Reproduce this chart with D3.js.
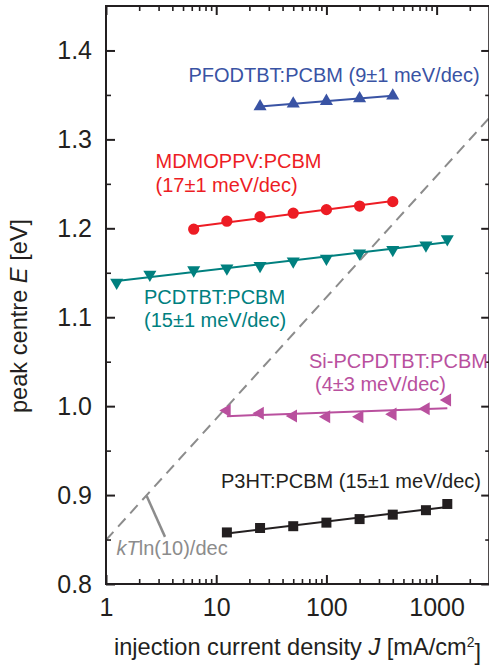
<!DOCTYPE html>
<html>
<head>
<meta charset="utf-8">
<script src="https://cdn.jsdelivr.net/npm/d3@7"></script>
<style>
  body { margin: 0; background: #fff; }
  svg { display: block; font-family: 'Liberation Sans', Arial, Helvetica, sans-serif; }
</style>
</head>
<body>
<svg id="chart" width="489" height="666"></svg>
<script>
// axis ranges and ticks
const xDomain = [1, 3000]
const yDomain = [0.8, 1.45]
const xTicks = [1, 10, 100, 1000]
const xMinorTicks = [2, 3, 4, 5, 6, 7, 8, 9, 20, 30, 40, 50, 60, 70, 80, 90, 200, 300, 400, 500, 600, 700, 800, 900, 2000]
const yTicks = [0.8, 0.9, 1.0, 1.1, 1.2, 1.3, 1.4]
const yMinorTicks = [0.85, 0.95, 1.05, 1.15, 1.25, 1.35]

// injection current density J [mA/cm2] and peak centre E [eV]
const pfodtbtJ = [25, 50, 100, 200, 400]
const pfodtbtE = [1.337, 1.340, 1.343, 1.346, 1.349]

const mdmoppvJ = [6.25, 12.5, 25, 50, 100, 200, 400]
const mdmoppvE = [1.199, 1.208, 1.213, 1.217, 1.221, 1.225, 1.230]

const pcdtbtJ = [1.25, 2.5, 6.25, 12.5, 25, 50, 100, 200, 400, 800, 1250]
const pcdtbtE = [1.139, 1.148, 1.153, 1.155, 1.158, 1.163, 1.166, 1.172, 1.176, 1.181, 1.188]

const siJ = [12.5, 25, 50, 100, 200, 400, 800, 1250]
const siE = [0.995, 0.992, 0.989, 0.988, 0.988, 0.991, 0.997, 1.007]

const p3htJ = [12.5, 25, 50, 100, 200, 400, 800, 1250]
const p3htE = [0.858, 0.863, 0.865, 0.869, 0.873, 0.878, 0.883, 0.890]

// kT ln(10)/dec guide line and its pointer
const guideJ = [1, 3000]
const guideE = [0.8495, 1.324]
const pointerJ = [2.34, 3.43]
const pointerE = [0.899, 0.853]

const series = [
  { J: pfodtbtJ, E: pfodtbtE, color: '#3953a4', marker: 'up' },
  { J: mdmoppvJ, E: mdmoppvE, color: '#ed1c24', marker: 'circle' },
  { J: pcdtbtJ, E: pcdtbtE, color: '#00807f', marker: 'down' },
  { J: siJ, E: siE, color: '#b9509e', marker: 'left' },
  { J: p3htJ, E: p3htE, color: '#231f20', marker: 'square' },
]

const labels = [
  { text: 'PFODTBT:PCBM (9±1 meV/dec)', x: 188.5, y: 82, color: '#3953a4' },
  { text: 'MDMOPPV:PCBM', x: 155.5, y: 168, color: '#ed1c24' },
  { text: '(17±1 meV/dec)', x: 155.5, y: 192, color: '#ed1c24' },
  { text: 'PCDTBT:PCBM', x: 144, y: 304, color: '#00807f' },
  { text: '(15±1 meV/dec)', x: 144, y: 327, color: '#00807f' },
  { text: 'Si-PCPDTBT:PCBM', x: 309, y: 368, color: '#b9509e' },
  { text: '(4±3 meV/dec)', x: 315, y: 391, color: '#b9509e' },
  { text: 'P3HT:PCBM (15±1 meV/dec)', x: 221, y: 488, color: '#231f20' },
]

const axisColor = '#231f20'
const guideColor = '#8c8c8c'

const x = d3.scaleLog().domain(xDomain).range([106, 489.2])
const y = d3.scaleLinear().domain(yDomain).range([584, 6])

const svg = d3.select('#chart')

const plotLeft = x(xDomain[0])
const plotRight = x(xDomain[1])
const plotTop = y(yDomain[1])
const plotBottom = y(yDomain[0])

svg.append('clipPath').attr('id', 'plot-clip')
  .append('rect')
  .attr('x', plotLeft).attr('y', plotTop)
  .attr('width', plotRight - plotLeft)
  .attr('height', plotBottom - plotTop)

const plot = svg.append('g').attr('clip-path', 'url(#plot-clip)')

function linFit (J, E) {
  const lx = J.map(Math.log10)
  const mx = d3.mean(lx)
  const my = d3.mean(E)
  const slope = d3.sum(lx, (v, i) => (v - mx) * (E[i] - my)) / d3.sum(lx, v => (v - mx) ** 2)
  return j => my + slope * (Math.log10(j) - mx)
}

function markerPath (type) {
  if (type === 'circle') return d3.symbol(d3.symbolCircle, 100)()
  if (type === 'square') return d3.symbol(d3.symbolSquare, 100)()
  return d3.symbol(d3.symbolTriangle, 74)()
}

const markerRotation = { up: 0, down: 180, left: -90, circle: 0, square: 0 }

// dashed guide
plot.append('line')
  .attr('x1', x(guideJ[0])).attr('y1', y(guideE[0]))
  .attr('x2', x(guideJ[1])).attr('y2', y(guideE[1]))
  .attr('stroke', guideColor)
  .attr('stroke-width', 2)
  .attr('stroke-dasharray', '11,7')

plot.append('line')
  .attr('x1', x(pointerJ[0])).attr('y1', y(pointerE[0]))
  .attr('x2', x(pointerJ[1])).attr('y2', y(pointerE[1]))
  .attr('stroke', guideColor)
  .attr('stroke-width', 2.5)

series.forEach(s => {
  const fit = linFit(s.J, s.E)
  const ends = [s.J[0], s.J[s.J.length - 1]]
  plot.append('path')
    .datum(ends)
    .attr('fill', 'none')
    .attr('stroke', s.color)
    .attr('stroke-width', 2)
    .attr('d', d3.line().x(j => x(j)).y(j => y(fit(j))))

  plot.append('g')
    .selectAll('path')
    .data(s.J.map((j, i) => ({ j, e: s.E[i] })))
    .join('path')
    .attr('d', markerPath(s.marker))
    .attr('fill', s.color)
    .attr('transform', d => `translate(${x(d.j)},${y(d.e)}) rotate(${markerRotation[s.marker]})`)
})

// frame
svg.append('rect')
  .attr('x', plotLeft).attr('y', plotTop)
  .attr('width', plotRight - plotLeft)
  .attr('height', plotBottom - plotTop)
  .attr('fill', 'none')
  .attr('stroke', axisColor)
  .attr('stroke-width', 2)

function styleAxis (g, width) {
  g.select('.domain').remove()
  g.selectAll('.tick line').attr('stroke', axisColor).attr('stroke-width', width)
  g.selectAll('.tick text').attr('fill', axisColor).style('font-size', '25px')
}

svg.append('g').attr('transform', `translate(0,${plotBottom})`)
  .call(d3.axisBottom(x).tickValues(xTicks).tickFormat(d3.format('d')).tickSize(-9).tickPadding(14))
  .call(g => styleAxis(g, 2))
svg.append('g').attr('transform', `translate(0,${plotBottom})`)
  .call(d3.axisBottom(x).tickValues(xMinorTicks).tickFormat('').tickSize(-5))
  .call(g => styleAxis(g, 1.6))
svg.append('g').attr('transform', `translate(0,${plotTop})`)
  .call(d3.axisTop(x).tickValues(xTicks).tickFormat('').tickSize(-9))
  .call(g => styleAxis(g, 2))
svg.append('g').attr('transform', `translate(0,${plotTop})`)
  .call(d3.axisTop(x).tickValues(xMinorTicks).tickFormat('').tickSize(-5))
  .call(g => styleAxis(g, 1.6))

svg.append('g').attr('transform', `translate(${plotLeft},0)`)
  .call(d3.axisLeft(y).tickValues(yTicks).tickFormat(d3.format('.1f')).tickSize(-9).tickPadding(14))
  .call(g => styleAxis(g, 2))
svg.append('g').attr('transform', `translate(${plotLeft},0)`)
  .call(d3.axisLeft(y).tickValues(yMinorTicks).tickFormat('').tickSize(-5))
  .call(g => styleAxis(g, 1.6))
svg.append('g').attr('transform', `translate(${plotRight},0)`)
  .call(d3.axisRight(y).tickValues(yTicks).tickFormat('').tickSize(-8))
  .call(g => styleAxis(g, 2))
svg.append('g').attr('transform', `translate(${plotRight},0)`)
  .call(d3.axisRight(y).tickValues(yMinorTicks).tickFormat('').tickSize(-4))
  .call(g => styleAxis(g, 1.6))

// axis titles
const xTitle = svg.append('text')
  .attr('x', 114).attr('y', 655)
  .attr('fill', axisColor)
  .style('font-size', '23.6px')
xTitle.append('tspan').text('injection current density ')
xTitle.append('tspan').style('font-style', 'italic').text('J')
xTitle.append('tspan').text(' [mA/cm')
xTitle.append('tspan').attr('dy', '-0.55em').style('font-size', '14px').text('2')
xTitle.append('tspan').attr('dy', '0.55em').text(']')

const yTitle = svg.append('text')
  .attr('transform', 'translate(27,413) rotate(-90)')
  .attr('fill', axisColor)
  .style('font-size', '23.6px')
yTitle.append('tspan').text('peak centre ')
yTitle.append('tspan').style('font-style', 'italic').text('E')
yTitle.append('tspan').text(' [eV]')

// series labels
svg.append('g')
  .selectAll('text')
  .data(labels)
  .join('text')
  .attr('x', d => d.x)
  .attr('y', d => d.y)
  .attr('fill', d => d.color)
  .style('font-size', '20px')
  .text(d => d.text)

const guideLabel = svg.append('text')
  .attr('x', 116.5).attr('y', 555)
  .attr('fill', guideColor)
  .style('font-size', '20px')
guideLabel.append('tspan').style('font-style', 'italic').text('kT')
guideLabel.append('tspan').text('ln(10)/dec')
</script>
</body>
</html>
